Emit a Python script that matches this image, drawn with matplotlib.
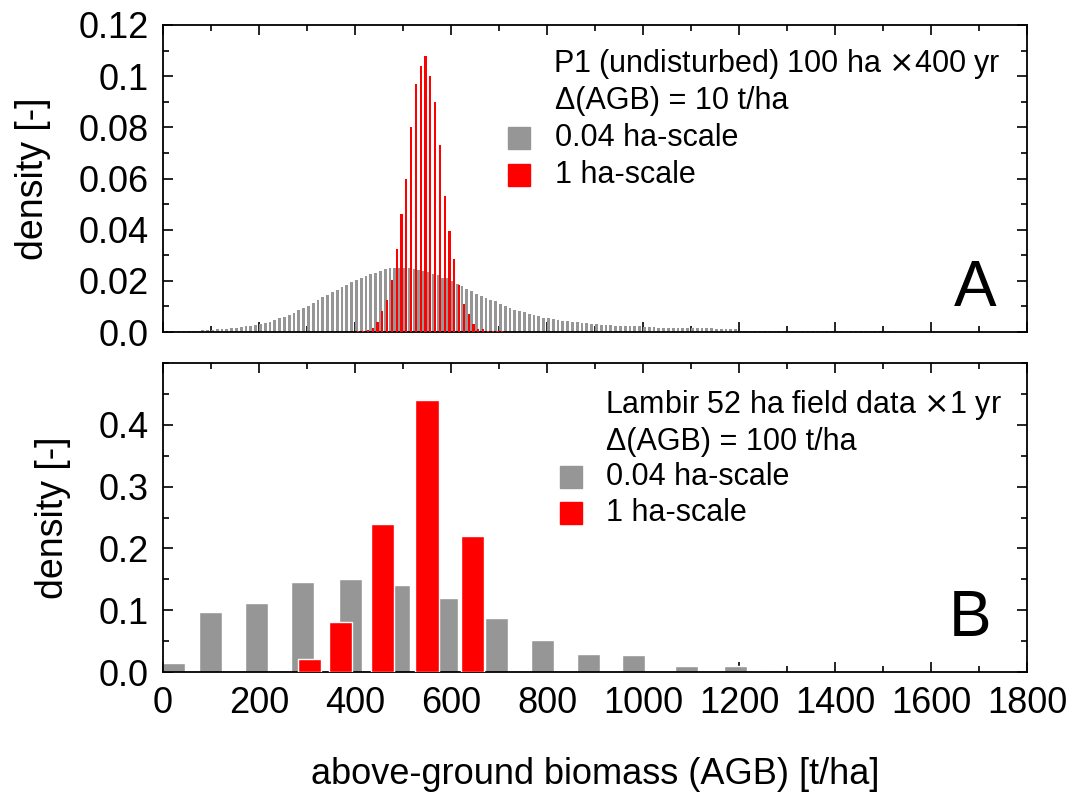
import matplotlib
matplotlib.use('Agg')
import matplotlib.pyplot as plt
from matplotlib.patches import Rectangle
from matplotlib.ticker import MultipleLocator, FuncFormatter

plt.rcParams['font.family'] = ['Liberation Sans', 'DejaVu Sans']

# Panel A: P1 simulation, 10 t/ha bins (bin centres 5, 15, ...)
gray_a = [0.0002, 0.0003, 0.0003, 0.0003, 0.0004, 0.0004, 0.0005, 0.0005, 0.0006, 0.0008,
          0.0009, 0.0010, 0.0012, 0.0013, 0.0016, 0.0017, 0.0020, 0.0022, 0.0025, 0.0027,
          0.0030, 0.0034, 0.0040, 0.0046, 0.0053, 0.0060, 0.0066, 0.0074, 0.0085, 0.0094,
          0.0103, 0.0113, 0.0124, 0.0135, 0.0145, 0.0155, 0.0165, 0.0174, 0.0185, 0.0195,
          0.0204, 0.0212, 0.0220, 0.0225, 0.0232, 0.0240, 0.0245, 0.0249, 0.0250, 0.0251,
          0.0251, 0.0249, 0.0246, 0.0242, 0.0240, 0.0236, 0.0227, 0.0223, 0.0210, 0.0210,
          0.0198, 0.0188, 0.0178, 0.0170, 0.0161, 0.0150, 0.0142, 0.0133, 0.0126, 0.0120,
          0.0110, 0.0102, 0.0094, 0.0087, 0.0082, 0.0077, 0.0070, 0.0065, 0.0061, 0.0056,
          0.0053, 0.0051, 0.0047, 0.0044, 0.0042, 0.0039, 0.0038, 0.0035, 0.0034, 0.0031,
          0.0030, 0.0029, 0.0027, 0.0026, 0.0025, 0.0025, 0.0023, 0.0023, 0.0023, 0.0023,
          0.0021, 0.0020, 0.0018, 0.0017, 0.0016, 0.0014, 0.0014, 0.0014, 0.0014, 0.0014,
          0.0014, 0.0014, 0.0014, 0.0014, 0.0014, 0.0013, 0.0013, 0.0013, 0.0012, 0.0012,
          0.0005, 0.0005, 0.0005, 0.0005, 0.0005, 0.0005, 0.0005, 0.0005, 0.0005, 0.0005,
          0.0005, 0.0005, 0.0005, 0.0005, 0.0005, 0.0005, 0.0005, 0.0005, 0.0005, 0.0005,
          0.0005, 0.0005, 0.0005, 0.0005, 0.0005, 0.0005, 0.0003, 0.0003, 0.0003, 0.0003,
          0.0003, 0.0003, 0.0003]
gray_a_x = [5 + 10 * i for i in range(len(gray_a))]

red_a = [0.0004, 0.0005, 0.0009, 0.0017, 0.0038, 0.0083, 0.0126, 0.0204, 0.0324, 0.046,
         0.060, 0.080, 0.097, 0.104, 0.108, 0.100, 0.090, 0.0732, 0.053, 0.0393,
         0.0286, 0.0182, 0.011, 0.0069, 0.0031, 0.0013, 0.0012, 0.0005, 0.0005, 0.0005,
         0.0005]
red_a_x = [405 + 10 * i for i in range(len(red_a))]

# Panel B: Lambir field data, 100 t/ha bins
gray_b_x = [21, 99, 194, 290, 390, 490, 590, 694, 791, 887, 980, 1090, 1193, 1265]
gray_b = [0.015, 0.097, 0.112, 0.146, 0.151, 0.140, 0.120, 0.088, 0.052, 0.029, 0.027,
          0.009, 0.009, 0.004]
red_b_x = [306, 370, 458, 550, 645]
red_b = [0.021, 0.081, 0.24, 0.44, 0.22]

GRAY = '#969696'
RED = '#ff0000'
FS = 22      # legend text
TFS = 26     # ticks and axis labels

W, H = 1069, 793
fig = plt.figure(figsize=(W / 100, H / 100), dpi=100)
L, R = 163, 1027
axA = fig.add_axes([L / W, 1 - 332 / H, (R - L) / W, (332 - 25) / H])
axB = fig.add_axes([L / W, 1 - 672 / H, (R - L) / W, (672 - 363) / H])

axA.bar([x - 2 for x in gray_a_x], gray_a, width=6, color=GRAY, linewidth=0, zorder=2)
axA.bar([x + 2 for x in red_a_x], red_a, width=4.5, color=RED, linewidth=0, zorder=3)

axB.bar(gray_b_x, gray_b, width=48, color=GRAY, edgecolor='white', linewidth=1, zorder=2)
axB.bar(red_b_x, red_b, width=48, color=RED, edgecolor='white', linewidth=1, zorder=3)

def fmt(v, pos):
    if abs(v) < 1e-9:
        return '0.0'
    return '%g' % round(v, 3)

for ax in (axA, axB):
    ax.set_xlim(0, 1800)
    ax.xaxis.set_major_locator(MultipleLocator(200))
    ax.xaxis.set_minor_locator(MultipleLocator(100))
    ax.tick_params(which='both', direction='in', top=True, right=True, width=1.2)
    ax.tick_params(which='major', length=7, labelsize=TFS, pad=10)
    ax.tick_params(which='minor', length=4)
    ax.yaxis.set_major_formatter(FuncFormatter(fmt))
    for s in ax.spines.values():
        s.set_linewidth(1.3)
    ax.set_ylabel('density [-]', fontsize=27, labelpad=20)

axA.set_ylim(0, 0.12)
axA.yaxis.set_major_locator(MultipleLocator(0.02))
axA.yaxis.set_minor_locator(MultipleLocator(0.01))
axA.tick_params(labelbottom=False)

axB.set_ylim(0, 0.5)
axB.yaxis.set_major_locator(MultipleLocator(0.1))
axB.yaxis.set_minor_locator(MultipleLocator(0.05))
axB.set_yticks([0, 0.1, 0.2, 0.3, 0.4])
axB.set_xlabel('above-ground biomass (AGB) [t/ha]', fontsize=TFS, labelpad=26)

# legend-like annotations, in pixel positions
def put_text(ax, top, bottom, x, y, s, **kw):
    ax.text((x - L) / (R - L), (bottom - y) / (bottom - top), s, transform=ax.transAxes,
            va='center', ha='left', **kw)

def put_box(ax, top, bottom, x, y, color):
    ax.add_patch(Rectangle(((x - L) / (R - L), (bottom - y - 11) / (bottom - top)),
                           22 / (R - L), 22 / (bottom - top), transform=ax.transAxes,
                           color=color, zorder=5, clip_on=False))

put_text(axA, 25, 332, 553, 64, 'P1 (undisturbed) 100 ha $\\times$400 yr', fontsize=FS)
put_text(axA, 25, 332, 555, 101, '\u0394(AGB) = 10 t/ha', fontsize=FS)
put_box(axA, 25, 332, 508, 138, GRAY)
put_text(axA, 25, 332, 555, 138, '0.04 ha-scale', fontsize=FS)
put_box(axA, 25, 332, 508, 175, RED)
put_text(axA, 25, 332, 555, 175, '1 ha-scale', fontsize=FS)
axA.text(0.94, 0.14, 'A', transform=axA.transAxes, fontsize=46, ha='center', va='center')

put_text(axB, 363, 672, 605, 405, 'Lambir 52 ha field data $\\times$1 yr', fontsize=FS)
put_text(axB, 363, 672, 606, 442, '\u0394(AGB) = 100 t/ha', fontsize=FS)
put_box(axB, 363, 672, 560, 477, GRAY)
put_text(axB, 363, 672, 606, 477, '0.04 ha-scale', fontsize=FS)
put_box(axB, 363, 672, 560, 513, RED)
put_text(axB, 363, 672, 606, 513, '1 ha-scale', fontsize=FS)
axB.text(0.934, 0.172, 'B', transform=axB.transAxes, fontsize=46, ha='center', va='center')

fig.savefig('out.png', dpi=100)
